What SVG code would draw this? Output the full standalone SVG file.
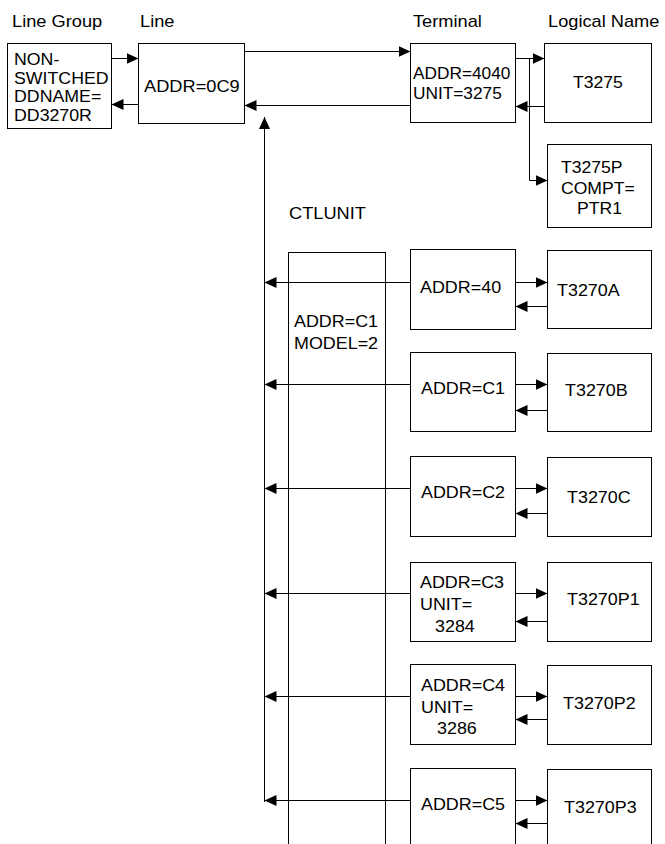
<svg xmlns="http://www.w3.org/2000/svg" width="665" height="844" viewBox="0 0 665 844">
<style>
.b{fill:#fff;stroke:#000;stroke-width:1}
.t{font-family:"Liberation Sans",Arial,sans-serif;font-size:16px;fill:#000}
.c{fill:none;stroke:#000;stroke-width:1}
.a{marker-end:url(#ah)}
</style>
<defs>
<marker id="ah" viewBox="0 0 10 10" refX="10" refY="5" markerWidth="12" markerHeight="12" markerUnits="userSpaceOnUse" orient="auto">
<path d="M0,0.4 L10,5 L0,9.6 z" fill="#000"/>
</marker>
</defs>
<rect width="665" height="844" fill="#fff"/>
<g id="headers">
<text class="t" transform="translate(12,27) scale(1.14 1)">Line Group</text>
<text class="t" transform="translate(140,27) scale(1.14 1)">Line</text>
<text class="t" transform="translate(413,27) scale(1.14 1)">Terminal</text>
<text class="t" transform="translate(548,27) scale(1.14 1)">Logical Name</text>
<text class="t" transform="translate(289,219) scale(1.14 1)">CTLUNIT</text>
</g>
<g id="linegroup">
<rect class="b" x="7.5" y="43.5" width="104" height="85"/>
<text class="t" transform="translate(14,65) scale(1.11 1)">NON-</text>
<text class="t" transform="translate(14,84) scale(1.11 1)">SWITCHED</text>
<text class="t" transform="translate(14,102) scale(1.11 1)">DDNAME=</text>
<text class="t" transform="translate(14,121) scale(1.11 1)">DD3270R</text>
</g>
<g id="line">
<rect class="b" x="138.5" y="43.5" width="106" height="80"/>
<text class="t" transform="translate(144,92) scale(1.14 1)">ADDR=0C9</text>
</g>
<g id="terminal">
<rect class="b" x="410.5" y="43.5" width="105" height="79"/>
<text class="t" transform="translate(413,79) scale(1.08 1)">ADDR=4040</text>
<text class="t" transform="translate(413,99) scale(1.08 1)">UNIT=3275</text>
</g>
<g id="t3275">
<rect class="b" x="544.5" y="43.5" width="107" height="79"/>
<text class="t" transform="translate(573,88) scale(1.1 1)">T3275</text>
</g>
<g id="t3275p">
<rect class="b" x="547.5" y="144.5" width="104" height="83"/>
<text class="t" transform="translate(561,173) scale(1.1 1)">T3275P</text>
<text class="t" transform="translate(561,194) scale(1.1 1)">COMPT=</text>
<text class="t" transform="translate(577,214) scale(1.1 1)">PTR1</text>
</g>
<g id="ctlunit">
<rect class="b" x="288.5" y="252.5" width="97" height="620"/>
<text class="t" transform="translate(294,327) scale(1.12 1)">ADDR=C1</text>
<text class="t" transform="translate(294,349) scale(1.12 1)">MODEL=2</text>
</g>
<g id="term40">
<rect class="b" x="410.5" y="249.5" width="105" height="80"/>
<text class="t" transform="translate(420,293) scale(1.12 1)">ADDR=40</text>
</g>
<g id="t3270a">
<rect class="b" x="547.5" y="250.5" width="104" height="78"/>
<text class="t" transform="translate(557,296) scale(1.12 1)">T3270A</text>
</g>
<g id="termC1">
<rect class="b" x="410.5" y="352.5" width="105" height="79"/>
<text class="t" transform="translate(421,394) scale(1.12 1)">ADDR=C1</text>
</g>
<g id="t3270b">
<rect class="b" x="547.5" y="353.5" width="104" height="78"/>
<text class="t" transform="translate(565,396) scale(1.12 1)">T3270B</text>
</g>
<g id="termC2">
<rect class="b" x="410.5" y="456.5" width="105" height="80"/>
<text class="t" transform="translate(421,498) scale(1.12 1)">ADDR=C2</text>
</g>
<g id="t3270c">
<rect class="b" x="547.5" y="457.5" width="104" height="79"/>
<text class="t" transform="translate(567,503) scale(1.12 1)">T3270C</text>
</g>
<g id="termC3">
<rect class="b" x="410.5" y="562.5" width="105" height="79"/>
<text class="t" transform="translate(420,588) scale(1.12 1)">ADDR=C3</text>
<text class="t" transform="translate(420,610) scale(1.12 1)">UNIT=</text>
<text class="t" transform="translate(435,632) scale(1.12 1)">3284</text>
</g>
<g id="t3270p1">
<rect class="b" x="547.5" y="562.5" width="104" height="79"/>
<text class="t" transform="translate(567,605) scale(1.12 1)">T3270P1</text>
</g>
<g id="termC4">
<rect class="b" x="410.5" y="664.5" width="105" height="80"/>
<text class="t" transform="translate(421,691) scale(1.12 1)">ADDR=C4</text>
<text class="t" transform="translate(421,713) scale(1.12 1)">UNIT=</text>
<text class="t" transform="translate(437,734) scale(1.12 1)">3286</text>
</g>
<g id="t3270p2">
<rect class="b" x="547.5" y="665.5" width="104" height="79"/>
<text class="t" transform="translate(563,709) scale(1.12 1)">T3270P2</text>
</g>
<g id="termC5">
<rect class="b" x="410.5" y="768.5" width="105" height="100"/>
<text class="t" transform="translate(421,810) scale(1.12 1)">ADDR=C5</text>
</g>
<g id="t3270p3">
<rect class="b" x="547.5" y="769.5" width="104" height="100"/>
<text class="t" transform="translate(564,813) scale(1.12 1)">T3270P3</text>
</g>
<g id="connectors">
<path class="c a" d="M111.5,58.5 H138.5"/>
<path class="c a" d="M138.5,104.5 H111.5"/>
<path class="c a" d="M244.5,51.5 H410.5"/>
<path class="c a" d="M410.5,105.5 H244.5"/>
<path class="c a" d="M264.5,802 V117"/>
<path class="c a" d="M515.5,58.5 H544.5"/>
<path class="c a" d="M529.5,58.5 V180.5 H547.5"/>
<path class="c a" d="M544.5,106.5 H515.5"/>
<path class="c a" d="M410.5,282.5 H264.5"/>
<path class="c a" d="M515.5,282.5 H547.5"/>
<path class="c a" d="M547.5,306.5 H515.5"/>
<path class="c a" d="M410.5,384.5 H264.5"/>
<path class="c a" d="M515.5,384.5 H547.5"/>
<path class="c a" d="M547.5,410.5 H515.5"/>
<path class="c a" d="M410.5,488.5 H264.5"/>
<path class="c a" d="M515.5,488.5 H547.5"/>
<path class="c a" d="M547.5,513.5 H515.5"/>
<path class="c a" d="M410.5,593.5 H264.5"/>
<path class="c a" d="M515.5,593.5 H547.5"/>
<path class="c a" d="M547.5,621.5 H515.5"/>
<path class="c a" d="M410.5,696.5 H264.5"/>
<path class="c a" d="M515.5,696.5 H547.5"/>
<path class="c a" d="M547.5,719.5 H515.5"/>
<path class="c a" d="M410.5,800.5 H264.5"/>
<path class="c a" d="M515.5,800.5 H547.5"/>
<path class="c a" d="M547.5,823.5 H515.5"/>
</g>
</svg>
